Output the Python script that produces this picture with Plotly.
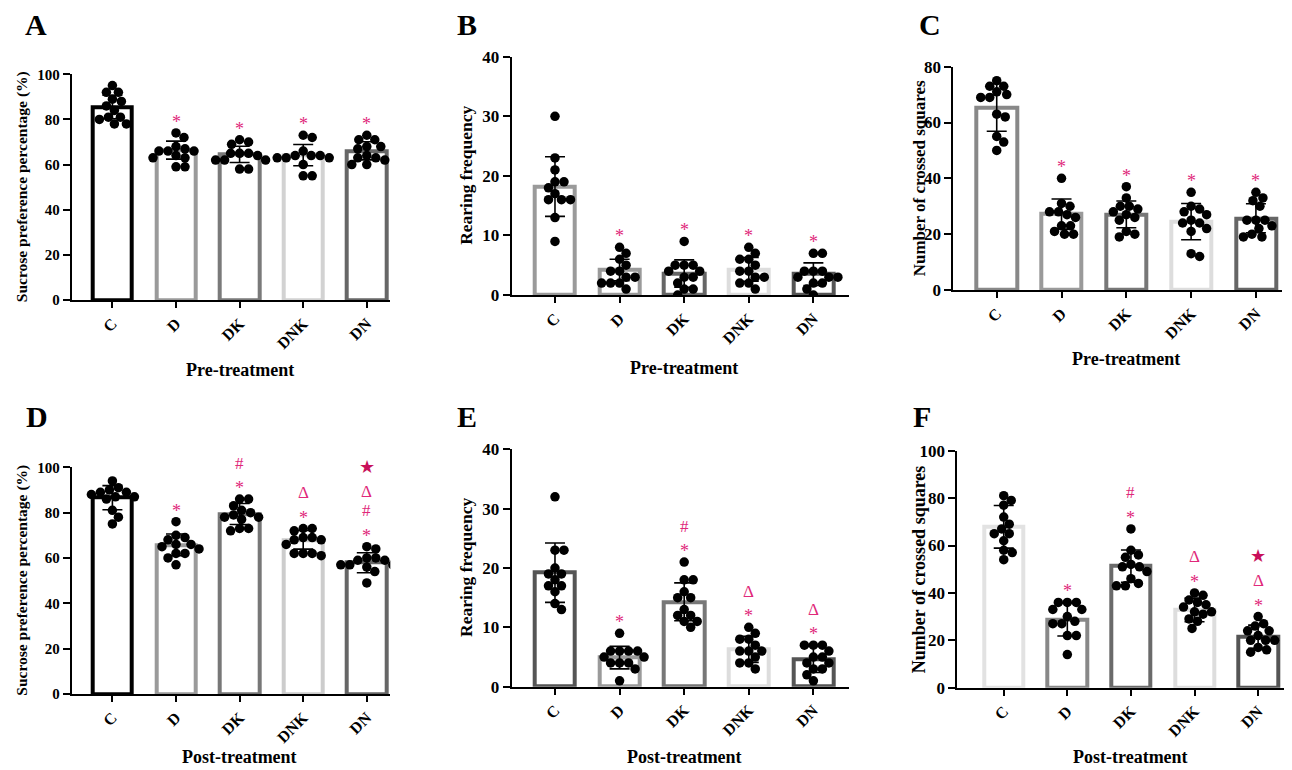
import plotly.graph_objects as go

OX, OY = 8, 8  # page body margin in the browser
W, H = 1292 - OX, 770 - OY  # figure fits the 1292x770 window exactly
groups = ["C", "D", "DK", "DNK", "DN"]

# ---------------- data ----------------
sucrose_pre = [
    [92, 95, 92, 88, 89, 84, 81, 81, 80, 78, 78, 86],
    [74, 72, 68, 66, 66, 66, 67, 63, 64, 63, 59, 59],
    [71, 70, 69, 65, 65, 64, 65, 62, 62, 62, 58, 58],
    [73, 72, 64, 64, 66, 63, 64, 63, 60, 55, 55, 63],
    [73, 71, 71, 68, 67, 68, 63, 64, 63, 62, 60, 60],
]
sucrose_pre_mean = [85.5, 66.4, 64.5, 64.2, 66.1]
sucrose_pre_sd = [5.2, 4.0, 3.6, 4.7, 4.0]

rearing_pre = [
    [30, 23, 21, 19, 19, 18, 17, 16, 16, 16, 13, 9],
    [8, 7, 6, 5, 4, 4, 3, 3, 2, 2, 2, 1],
    [9, 5, 5, 5, 4, 4, 3, 3, 2, 1, 1, 0],
    [8, 7, 6, 6, 5, 4, 4, 3, 3, 2, 2, 1],
    [7, 7, 4, 4, 4, 3, 3, 3, 2, 2, 1, 0],
]
rearing_pre_mean = [18.2, 4.2, 3.6, 4.3, 3.5]
rearing_pre_sd = [5.0, 1.8, 2.3, 2.0, 1.9]

squares_pre = [
    [75, 71, 73, 73, 70, 69, 69, 62, 63, 55, 53, 50],
    [40, 31, 30, 28, 28, 27, 26, 23, 23, 21, 20, 20],
    [37, 33, 30, 30, 29, 28, 27, 26, 25, 21, 20, 19],
    [35, 30, 29, 28, 27, 25, 24, 24, 22, 21, 13, 12],
    [35, 33, 32, 30, 25, 25, 25, 23, 22, 20, 19, 19],
]
squares_pre_mean = [65.4, 27.2, 27.1, 24.5, 25.7]
squares_pre_sd = [8.5, 5.4, 4.8, 6.5, 5.2]

sucrose_post = [
    [94, 91, 90, 89, 89, 88, 87, 87, 86, 81, 78, 75],
    [76, 70, 69, 68, 66, 66, 65, 64, 62, 62, 60, 57],
    [86, 86, 83, 81, 80, 79, 78, 78, 77, 73, 72, 73],
    [73, 72, 73, 68, 68, 69, 69, 62, 61, 62, 62, 66],
    [65, 64, 60, 59, 60, 59, 57, 57, 57, 56, 54, 49],
]
sucrose_post_mean = [86.6, 65.8, 79.4, 68.0, 57.9]
sucrose_post_sd = [5.3, 4.75, 4.6, 4.1, 4.4]

rearing_post = [
    [32, 23, 23, 20, 19, 19, 18, 17, 17, 16, 14, 13],
    [9, 6, 6, 6, 6, 5, 5, 4, 4, 4, 3, 1],
    [21, 18, 18, 16, 15, 15, 13, 12, 12, 11, 11, 10],
    [10, 9, 8, 8, 7, 6, 6, 6, 5, 4, 4, 3],
    [7, 7, 7, 6, 5, 5, 4, 4, 3, 3, 2, 1],
]
rearing_post_mean = [19.2, 4.9, 14.3, 6.3, 4.6]
rearing_post_sd = [5.0, 1.9, 3.2, 2.2, 2.2]

squares_post = [
    [81, 79, 77, 72, 69, 67, 65, 65, 62, 58, 57, 54],
    [36, 36, 36, 33, 33, 30, 28, 27, 27, 22, 22, 14],
    [67, 58, 56, 55, 52, 51, 51, 49, 46, 44, 43, 43],
    [40, 39, 37, 36, 35, 34, 32, 32, 31, 29, 28, 25],
    [30, 27, 26, 24, 24, 22, 20, 20, 20, 17, 16, 15],
]
squares_post_mean = [67.9, 28.8, 51.3, 32.8, 21.5]
squares_post_sd = [9.0, 7.0, 6.8, 5.0, 4.9]

marks_pre = ["", "*", "*", "*", "*"]
marks_sucrose_post = ["", "*", "*#", "*Δ", "*#Δ★"]
marks_rearing_post = ["", "*", "*#", "*Δ", "*Δ"]
marks_squares_post = ["", "*", "*#", "*Δ", "*Δ★"]

y_titles = ["Sucrose preference percentage (%)", "Rearing frequency", "Number of crossed squares"]
x_titles = ["Pre-treatment", "Post-treatment"]
panel_letters = ["A", "B", "C", "D", "E", "F"]

# ---------------- styling / geometry ----------------
FONT = "Liberation Serif"
PINK = "#e0287a"
STAR = "#c8105a"

panels = [
    dict(letter="A", vals=sucrose_pre, mean=sucrose_pre_mean, sd=sucrose_pre_sd, marks=marks_pre,
         ytitle=y_titles[0], xtitle=x_titles[0], ymax=100, dtick=20,
         colors=["#000000", "#9a9a9a", "#7a7a7a", "#d2d2d2", "#676767"],
         axx=71.7, sp=63.6, xr=(-0.64, 4.37), top=74.3, bot=300, ytx=22, xty=370, lab=(36, 24),
         yts=15.5, tks=15),
    dict(letter="B", vals=rearing_pre, mean=rearing_pre_mean, sd=rearing_pre_sd, marks=marks_pre,
         ytitle=y_titles[1], xtitle=x_titles[0], ymax=40, dtick=10,
         colors=["#9a9a9a", "#9a9a9a", "#666666", "#dddddd", "#555555"],
         axx=511.7, sp=64.6, xr=(-0.67, 4.55), top=56.7, bot=295, ytx=466, xty=368, lab=(467, 24),
         yts=17.5, tks=17),
    dict(letter="C", vals=squares_pre, mean=squares_pre_mean, sd=squares_pre_sd, marks=marks_pre,
         ytitle=y_titles[2], xtitle=x_titles[0], ymax=80, dtick=20,
         colors=["#888888", "#9a9a9a", "#777777", "#dddddd", "#666666"],
         axx=953.3, sp=64.8, xr=(-0.67, 4.4), top=66.7, bot=290, ytx=919, xty=359, lab=(930, 24),
         yts=17, tks=17),
    dict(letter="D", vals=sucrose_post, mean=sucrose_post_mean, sd=sucrose_post_sd, marks=marks_sucrose_post,
         ytitle=y_titles[0], xtitle=x_titles[1], ymax=100, dtick=20,
         colors=["#000000", "#9a9a9a", "#777777", "#cccccc", "#666666"],
         axx=71.7, sp=63.6, xr=(-0.64, 4.37), top=467.3, bot=694, ytx=22, xty=757, lab=(37, 416),
         yts=15.5, tks=15),
    dict(letter="E", vals=rearing_post, mean=rearing_post_mean, sd=rearing_post_sd, marks=marks_rearing_post,
         ytitle=y_titles[1], xtitle=x_titles[1], ymax=40, dtick=10,
         colors=["#555555", "#9a9a9a", "#777777", "#dddddd", "#555555"],
         axx=511.7, sp=64.6, xr=(-0.67, 4.55), top=449.3, bot=686.7, ytx=466, xty=757, lab=(467, 416),
         yts=17.5, tks=17),
    dict(letter="F", vals=squares_post, mean=squares_post_mean, sd=squares_post_sd, marks=marks_squares_post,
         ytitle=y_titles[2], xtitle=x_titles[1], ymax=100, dtick=20,
         colors=["#e2e2e2", "#888888", "#6a6a6a", "#dddddd", "#555555"],
         axx=957.3, sp=63.6, xr=(-0.73, 4.42), top=450.7, bot=687.7, ytx=919, xty=757, lab=(922, 416),
         yts=18, tks=17),
]


def px_x(px):
    return (px - OX) / W


def px_y(py):
    return 1 - (py - OY) / H


def swarm(vals, ppu_y, ppu_x, diam=8.8):
    """Simple beeswarm: offsets (in axis units) so that dots do not overlap."""
    placed = []
    offs = [0.0] * len(vals)
    order = sorted(range(len(vals)), key=lambda i: -vals[i])
    cands = [0.0]
    for k in range(1, 80):
        cands += [k * 0.5, -k * 0.5]
    for i in order:
        y = vals[i] * ppu_y
        for c in cands:
            if all((c - px) ** 2 + (y - py) ** 2 >= diam ** 2 for px, py in placed):
                break
        placed.append((c, y))
        offs[i] = c / ppu_x
    return offs


fig = go.Figure()
annotations = []
layout = {}

for n, p in enumerate(panels):
    idx = "" if n == 0 else str(n + 1)
    xa, ya = "x" + idx, "y" + idx
    x0 = px_x(p["axx"])
    x1 = px_x(p["axx"] + (p["xr"][1] - p["xr"][0]) * p["sp"])
    y0 = px_y(p["bot"])
    y1 = px_y(p["top"])
    ppu_y = (p["bot"] - p["top"]) / p["ymax"]

    fig.add_trace(go.Bar(
        x=list(range(5)), y=p["mean"], width=0.62, xaxis=xa, yaxis=ya,
        marker=dict(color="white", line=dict(color=p["colors"], width=4)),
        error_y=dict(type="data", array=p["sd"], color="black", thickness=1.6, width=10),
        showlegend=False, hoverinfo="skip",
    ))
    xs, ys = [], []
    for g in range(5):
        offs = swarm(p["vals"][g], ppu_y, p["sp"])
        xs += [g + o for o in offs]
        ys += p["vals"][g]
    fig.add_trace(go.Scatter(
        x=xs, y=ys, mode="markers", xaxis=xa, yaxis=ya,
        marker=dict(color="black", size=9.5), showlegend=False, hoverinfo="skip",
    ))

    axis_common = dict(showgrid=False, zeroline=False, showline=True, linecolor="black", linewidth=2,
                       ticks="outside", ticklen=6, tickwidth=2, tickcolor="black", automargin=False)
    layout["xaxis" + idx] = dict(
        axis_common, domain=[x0, x1], anchor=ya, range=list(p["xr"]),
        tickmode="array", tickvals=list(range(5)), ticktext=groups, tickangle=-45,
        tickfont=dict(family=FONT, size=16, color="black", weight="bold"),
    )
    layout["yaxis" + idx] = dict(
        axis_common, domain=[y0, y1], anchor=xa, range=[0, p["ymax"]],
        tickmode="linear", tick0=0, dtick=p["dtick"], ticklen=7,
        tickfont=dict(family=FONT, size=p["tks"], color="black", weight="bold"),
    )

    # significance marks
    for g in range(5):
        base = max(p["vals"][g])
        for k, ch in enumerate(p["marks"][g]):
            shift = 17 + 19 * k
            size = 17
            col = PINK
            if ch == "*":
                shift -= 6
                size = 18
            if ch == "★":
                shift += 6
                col = STAR
                size = 18
            annotations.append(dict(x=g, y=base, xref=xa, yref=ya, text=ch, showarrow=False,
                                    yshift=shift, font=dict(family=FONT, size=size, color=col)))

    # axis titles
    annotations.append(dict(x=px_x(p["ytx"]), y=px_y((p["top"] + p["bot"]) / 2), xref="paper", yref="paper",
                            text=p["ytitle"], textangle=-90, showarrow=False, xanchor="center", yanchor="middle",
                            font=dict(family=FONT, size=p["yts"], color="black", weight="bold")))
    annotations.append(dict(x=2, y=px_y(p["xty"]), xref=xa, yref="paper", text=p["xtitle"],
                            showarrow=False, xanchor="center", yanchor="middle",
                            font=dict(family=FONT, size=18, color="black", weight="bold")))
    annotations.append(dict(x=px_x(p["lab"][0]), y=px_y(p["lab"][1]), xref="paper", yref="paper",
                            text=p["letter"], showarrow=False, xanchor="center", yanchor="middle",
                            font=dict(family=FONT, size=30, color="black", weight="bold")))

fig.update_layout(
    width=W, height=H, margin=dict(l=0, r=0, t=0, b=0),
    paper_bgcolor="white", plot_bgcolor="white",
    annotations=annotations, bargap=0, **layout,
)

fig.write_html("out.html")
